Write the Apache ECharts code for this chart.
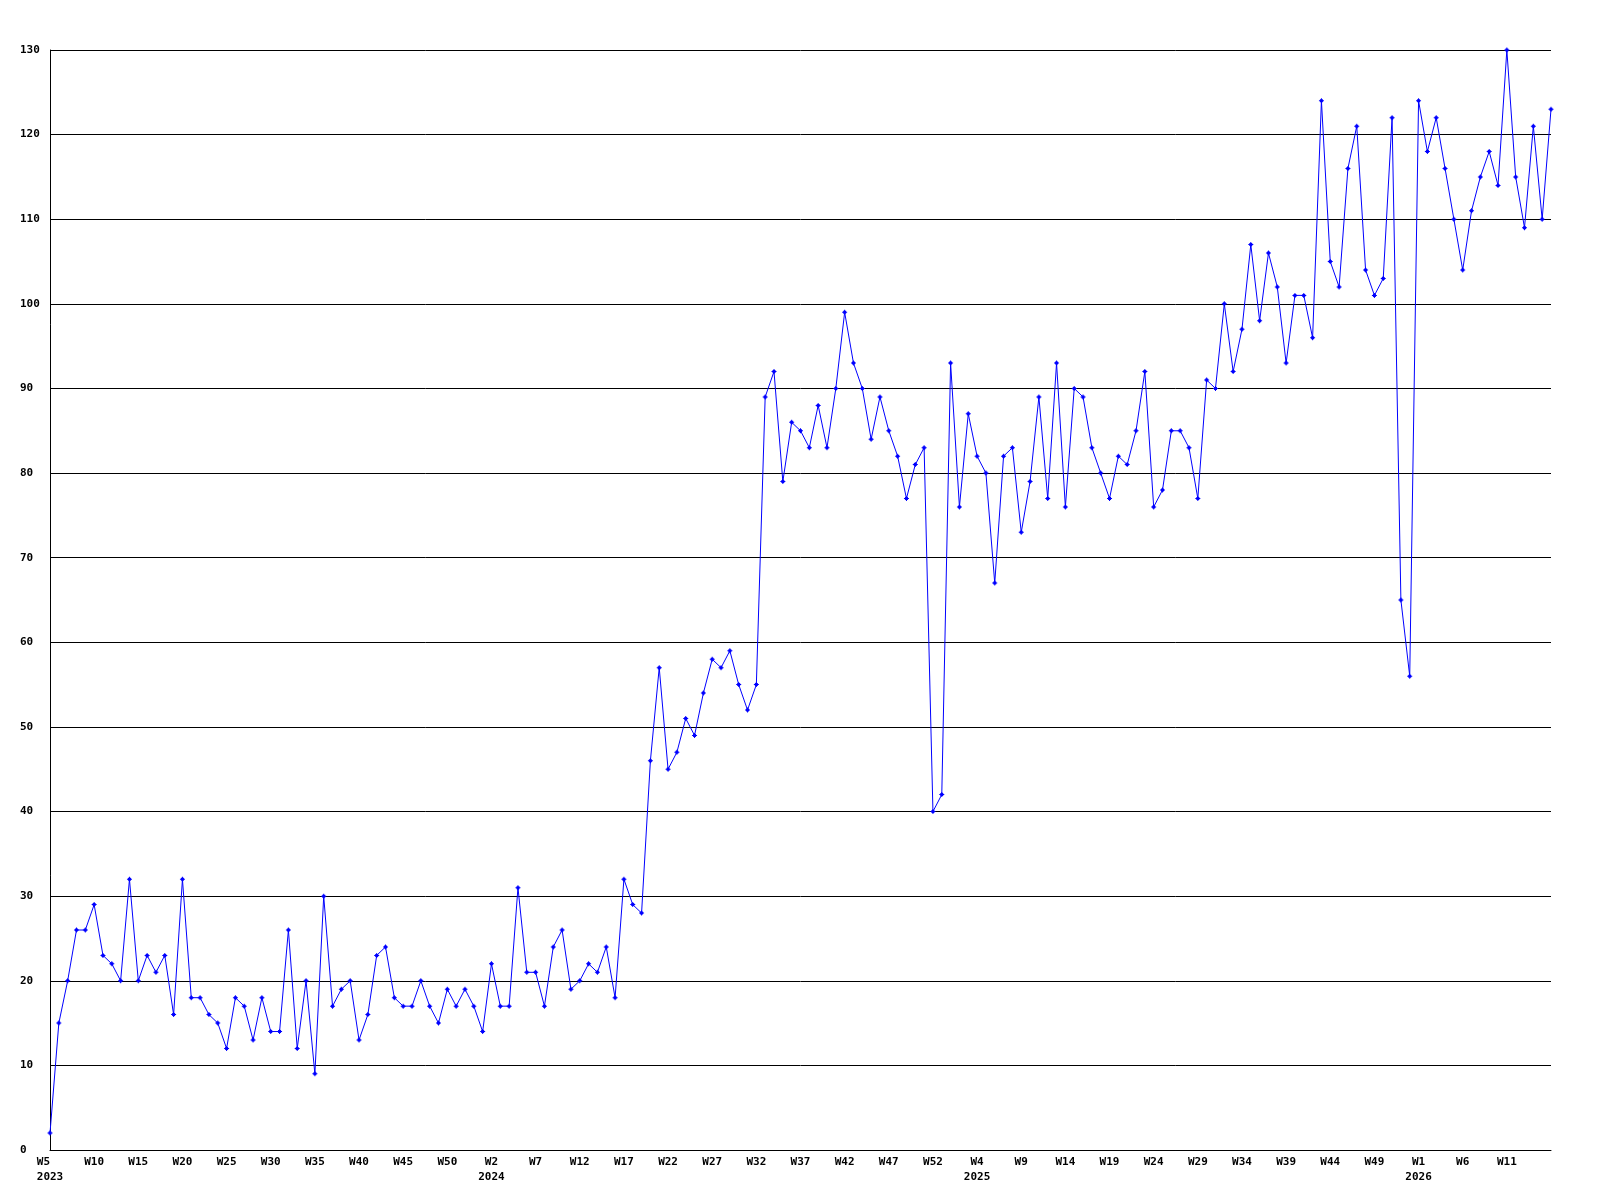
<!DOCTYPE html>
<html>
<head>
<meta charset="utf-8">
<script src="https://cdn.jsdelivr.net/npm/echarts@6/dist/echarts.min.js"></script>
<style>
  html, body { margin: 0; padding: 0; background: #ffffff; }
  #chart { width: 1600px; height: 1200px; }
</style>
</head>
<body>
<div id="chart"></div>
<script>
// Week ranges per year: [year, firstWeek, lastWeek]
const yearRanges = [[2023, 5, 53], [2024, 1, 53], [2025, 1, 53], [2026, 1, 16]];

// Weekly values, 2023 W5 .. 2026 W16
const values2023 = [2,15,20,26,26,29,23,22,20,32,20,23,21,23,16,32,18,18,16,15,12,18,17,13,18,14,14,26,12,20,9,30,
  17,19,20,13,16,23,24,18,17,17,20,17,15,19,17,19,17];
const values2024 = [14,22,17,17,31,21,21,17,24,26,19,20,22,21,24,18,32,29,28,
  46,57,45,47,51,49,54,58,57,59,55,52,55,
  89,92,79,86,85,83,88,83,90,99,93,90,84,89,85,82,77,81,83,40,42];
const values2025 = [93,76,87,82,80,67,82,83,73,79,89,77,93,76,90,89,83,80,77,82,81,85,92,76,78,85,85,83,77,91,90,
  100,92,97,107,98,106,102,93,101,101,96,124,105,102,116,121,104,101,103,122,65,56];
const values2026 = [124,118,122,116,110,104,111,115,118,114,130,115,109,121,110,123];

const weekLabels = [];
const weekYears = [];
yearRanges.forEach(([y, a, b]) => {
  for (let w = a; w <= b; w++) { weekLabels.push('W' + w); weekYears.push(y); }
});
const values = values2023.concat(values2024, values2025, values2026);

const chart = echarts.init(document.getElementById('chart'));
const labelFont = { fontFamily: 'DejaVu Sans Mono', fontWeight: 'bold', fontSize: 11, color: '#000' };

chart.setOption({
  animation: false,
  backgroundColor: '#ffffff',
  grid: { left: 50, right: 49, top: 50, bottom: 50, containLabel: false },
  xAxis: {
    type: 'category',
    data: weekLabels,
    boundaryGap: false,
    axisLine: { show: true, lineStyle: { color: '#000', width: 1 } },
    axisTick: { show: false },
    splitLine: { show: false },
    axisLabel: Object.assign({}, labelFont, {
      interval: 4,
      margin: 5,
      lineHeight: 15,
      showMaxLabel: false,
      formatter: function (value, index) {
        if (index === weekLabels.length - 1) return '';
        if (index === 0) return value.padEnd(4, ' ') + '\n' + weekYears[index];
        if (weekYears[index] !== weekYears[index - 5]) return value + '\n' + weekYears[index];
        return value;
      }
    })
  },
  yAxis: {
    type: 'value',
    min: 0,
    max: 130,
    interval: 10,
    axisLine: { show: true, lineStyle: { color: '#000', width: 1 } },
    axisTick: { show: false },
    splitLine: { show: true, lineStyle: { color: '#000', width: 1 } },
    axisLabel: Object.assign({}, labelFont, { margin: 30, align: 'left' })
  },
  series: [{
    type: 'line',
    data: values,
    symbol: 'path://M2,0H3V1H4V2H5V3H4V4H3V5H2V4H1V3H0V2H1V1H2Z',
    symbolSize: 5,
    showSymbol: true,
    itemStyle: { color: '#0000ff' },
    lineStyle: { color: '#0000ff', width: 1 }
  }]
});
</script>
</body>
</html>
